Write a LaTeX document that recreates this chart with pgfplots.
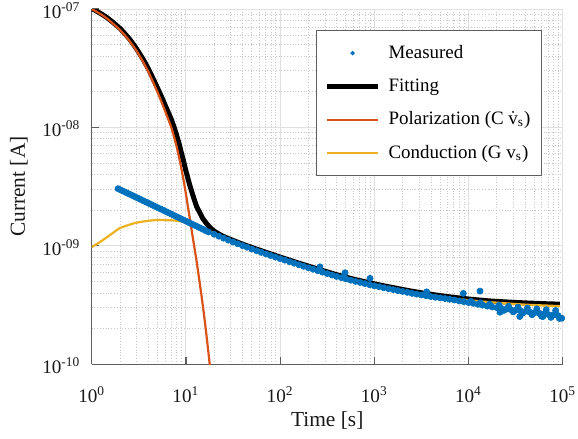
\documentclass[border=0pt]{standalone}
\usepackage{fontspec}
\setmainfont{Liberation Serif}
\usepackage{amsmath}
\usepackage{pgfplots}
\pgfplotsset{compat=1.18}
\definecolor{mblue}{RGB}{0,114,189}
\definecolor{morange}{RGB}{217,83,25}
\definecolor{myellow}{RGB}{237,177,32}
\definecolor{axgray}{RGB}{95,95,95}
\definecolor{majgrid}{RGB}{224,224,224}
\definecolor{mingrid}{RGB}{200,200,200}
\begin{document}
\begin{tikzpicture}
\begin{axis}[
  name=ax,
  scale only axis,
  width=235.5bp, height=177.65bp,
  xmode=log, ymode=log,
  xmin=1, xmax=1e5, ymin=1e-10, ymax=1e-7,
  axis x line*=bottom, axis y line*=left,
  axis line style={draw=axgray, line width=0.6bp},
  tick align=inside,
  major tick length=3.5bp, minor tick length=0bp,
  every tick/.style={draw=axgray, line width=0.6bp},
  xtick={1,10,100,1000,10000,100000},
  xticklabels={10\textsuperscript{0},10\textsuperscript{1},10\textsuperscript{2},10\textsuperscript{3},10\textsuperscript{4},10\textsuperscript{5}},
  minor xtick={2,3,4,5,6,7,8,9,20,30,40,50,60,70,80,90,200,300,400,500,600,700,800,900,2000,3000,4000,5000,6000,7000,8000,9000,20000,30000,40000,50000,60000,70000,80000,90000},
  ytick={1e-10,1e-9,1e-8,1e-7},
  yticklabels={10\textsuperscript{-10},10\textsuperscript{-09},10\textsuperscript{-08},10\textsuperscript{-07}},
  minor ytick={2e-10,3e-10,4e-10,5e-10,6e-10,7e-10,8e-10,9e-10,2e-9,3e-9,4e-9,5e-9,6e-9,7e-9,8e-9,9e-9,2e-8,3e-8,4e-8,5e-8,6e-8,7e-8,8e-8,9e-8},
  grid=both,
  major grid style={solid, draw=majgrid, line width=0.5bp},
  minor grid style={densely dotted, draw=mingrid, line width=0.45bp},
  ticklabel style={font=\fontsize{9.6}{11}\selectfont, text=black!90},
  xticklabel style={anchor=base, yshift=-19bp},
  yticklabel style={anchor=east, xshift=-2.2bp, yshift=-0.7bp},
  xlabel={Time [s]},
  label style={font=\fontsize{10.75}{12}\selectfont, text=black!90},
  xlabel style={at={(axis description cs:0.5,-0.1568)}, anchor=center},
  legend style={at={(1,1)}, anchor=north east, xshift=-10.35bp, yshift=-10.5bp,
    font=\fontsize{9.5}{11}\selectfont, draw=axgray, line width=0.6bp,
    inner xsep=4bp, inner ysep=4.8bp, row sep=3.7bp, column sep=2.5bp,
    nodes={inner sep=1.5bp, text height=0.75em, text depth=0.25em},
    cells={anchor=west}},
  legend image code/.code={\draw[mark repeat=2,mark phase=2,#1] plot coordinates {(0bp,0bp) (12.75bp,0bp) (25.5bp,0bp)};},
]
% Measured
\addplot[only marks, mark=*, mark size=1.5bp, color=mblue, mark options={draw=none, fill=mblue},
  legend image post style={mark size=0.8bp}] coordinates {
(1.905,3.040e-9) (2.042,2.961e-9) (2.188,2.884e-9) (2.344,2.810e-9) (2.512,2.737e-9)
(2.692,2.666e-9) (2.884,2.597e-9) (3.090,2.530e-9) (3.311,2.464e-9) (3.548,2.400e-9)
(3.802,2.338e-9) (4.074,2.278e-9) (4.365,2.219e-9) (4.677,2.161e-9) (5.012,2.105e-9)
(5.370,2.051e-9) (5.754,1.998e-9) (6.166,1.946e-9) (6.607,1.895e-9) (7.079,1.846e-9)
(7.586,1.798e-9) (8.128,1.752e-9) (8.710,1.706e-9) (9.333,1.662e-9) (10.00,1.619e-9)
(10.72,1.577e-9) (11.48,1.536e-9) (12.30,1.496e-9) (13.18,1.457e-9) (14.13,1.419e-9)
(15.14,1.381e-9) (16.22,1.345e-9) (17.38,1.310e-9)
(19.95,1.253e-9) (22.39,1.205e-9) (25.12,1.161e-9) (28.18,1.119e-9) (31.62,1.079e-9)
(35.48,1.042e-9) (39.81,1.005e-9) (44.67,9.73e-10) (50.12,9.40e-10) (56.23,9.10e-10)
(63.10,8.81e-10) (70.79,8.55e-10) (79.43,8.28e-10) (89.13,8.04e-10) (100,7.80e-10)
(112.2,7.57e-10) (125.9,7.35e-10) (141.3,7.13e-10) (158.5,6.92e-10) (177.8,6.72e-10)
(199.5,6.53e-10) (223.9,6.35e-10) (251.2,6.17e-10) (281.8,6.00e-10) (316.2,5.83e-10)
(354.8,5.68e-10) (398.1,5.52e-10) (446.7,5.39e-10) (501.2,5.26e-10) (562.3,5.13e-10)
(631.0,5.01e-10) (707.9,4.91e-10) (794.3,4.80e-10) (891.3,4.70e-10) (1000,4.60e-10)
(1122,4.52e-10) (1259,4.43e-10) (1413,4.35e-10) (1585,4.27e-10) (1778,4.19e-10)
(1995,4.12e-10) (2239,4.05e-10) (2512,3.97e-10) (2818,3.91e-10) (3162,3.85e-10)
(3548,3.79e-10) (3981,3.73e-10) (4467,3.68e-10) (5012,3.64e-10) (5623,3.59e-10)
(6310,3.54e-10) (7079,3.49e-10) (7943,3.43e-10) (8913,3.38e-10) (10000,3.32e-10)
(11220,3.27e-10) (12590,3.21e-10) (14130,3.16e-10) (15850,3.10e-10) (17780,3.05e-10)
(19950,3.01e-10) (22390,2.96e-10) (25120,2.92e-10) (28180,2.89e-10) (31620,2.86e-10)
(35480,2.83e-10) (39810,2.79e-10) (44670,2.76e-10) (50120,2.73e-10) (56230,2.70e-10)
(63100,2.66e-10) (70790,2.63e-10) (79430,2.61e-10) (89130,2.58e-10)
(10590,3.40e-10) (13340,3.31e-10) (16790,3.22e-10) (21130,3.16e-10) (26610,3.09e-10)
(33500,3.04e-10) (42170,2.99e-10) (53090,2.94e-10) (66830,2.89e-10) (84140,2.85e-10)
(23710,2.85e-10) (29850,2.77e-10) (37580,2.70e-10) (47320,2.62e-10) (59570,2.55e-10)
(74990,2.49e-10) (92260,2.44e-10)
(21600,2.75e-10) (35000,2.53e-10) (61700,2.53e-10) (97700,2.45e-10)
(265,6.65e-10) (488.7,5.93e-10) (901,5.32e-10) (3597,4.09e-10) (8810,3.97e-10) (13250,4.15e-10)
};
\addlegendentry{Measured}
% Fitting
\addplot[black, line width=2.5bp, smooth, tension=0.3] coordinates {
(1,1.01e-7) (1.25,9.15e-8) (1.5,8.3e-8) (2,6.85e-8) (2.5,5.62e-8) (3,4.6e-8) (3.5,3.78e-8)
(4,3.12e-8) (4.5,2.57e-8) (5,2.15e-8) (5.5,1.82e-8) (6,1.55e-8) (6.5,1.34e-8) (7,1.17e-8)
(7.5,1.0e-8) (8,8.5e-9) (8.5,7.2e-9) (9,6.0e-9) (9.5,5.1e-9) (10,4.3e-9) (11,3.25e-9)
(12,2.6e-9) (13,2.15e-9) (14,1.92e-9) (15,1.72e-9) (16.5,1.55e-9) (18,1.43e-9) (20,1.33e-9)
(25.12,1.2e-9) (39.81,1.035e-9) (63.10,9.10e-10) (100,8.05e-10) (158.5,7.14e-10)
(251.2,6.38e-10) (398.1,5.71e-10) (631,5.19e-10) (1000,4.78e-10) (1585,4.44e-10)
(2512,4.14e-10) (3981,3.90e-10) (6310,3.71e-10) (10000,3.56e-10) (15850,3.44e-10)
(25120,3.36e-10) (39810,3.30e-10) (63100,3.25e-10) (93330,3.22e-10)
};
\addlegendentry{Fitting}
% Polarization
\addplot[morange, line width=1.1bp, smooth, tension=0.3] coordinates {
(1,1.0e-7) (1.25,9.03e-8) (1.5,8.15e-8) (2,6.65e-8) (2.5,5.42e-8) (3,4.42e-8) (3.5,3.6e-8)
(4,2.94e-8) (4.5,2.4e-8) (5,1.98e-8) (5.5,1.65e-8) (6,1.38e-8) (6.5,1.17e-8) (7,1.0e-8)
(7.5,8.3e-9) (8,6.8e-9) (8.5,5.5e-9) (9,4.4e-9) (9.5,3.5e-9) (10,2.75e-9) (10.5,2.15e-9)
(11,1.7e-9) (11.5,1.36e-9) (12,1.1e-9) (12.5,9.0e-10) (13,7.4e-10) (13.5,6.0e-10)
(14,4.9e-10) (15,3.3e-10) (16,2.2e-10) (17,1.45e-10) (18,9.6e-11) (19,6.4e-11)
};
\addlegendentry{Polarization (C $\dot{\text{v}}_{\text{s}}$)}
% Conduction
\addplot[myellow, line width=1.1bp, smooth, tension=0.3] coordinates {
(1,9.77e-10) (1.224,1.076e-9) (1.563,1.233e-9) (1.995,1.413e-9) (2.884,1.56e-9) (4,1.63e-9)
(4.93,1.652e-9) (6,1.65e-9) (7.66,1.636e-9) (11.07,1.56e-9) (14.13,1.44e-9) (17.78,1.33e-9)
(25.12,1.189e-9) (39.81,1.028e-9) (63.10,9.02e-10) (100,7.98e-10) (158.5,7.08e-10)
(251.2,6.31e-10) (398.1,5.65e-10) (631.0,5.13e-10) (1000,4.71e-10) (1585,4.37e-10)
(2512,4.06e-10) (3981,3.82e-10) (6310,3.62e-10) (10000,3.48e-10) (15850,3.36e-10)
(25120,3.27e-10) (39810,3.19e-10) (63100,3.14e-10) (93330,3.10e-10)
};
\addlegendentry{Conduction (G v\textsubscript{s})}
\end{axis}
\node[rotate=90, anchor=center, font=\fontsize{10.75}{12}\selectfont, text=black!90]
  at ([xshift=-36.35bp]ax.west) {Current [A]};
\pgfresetboundingbox
\path[use as bounding box] ([xshift=-45.85bp,yshift=-37.35bp]ax.south west) rectangle ([xshift=7.65bp,yshift=4.5bp]ax.north east);
\end{tikzpicture}
\end{document}
